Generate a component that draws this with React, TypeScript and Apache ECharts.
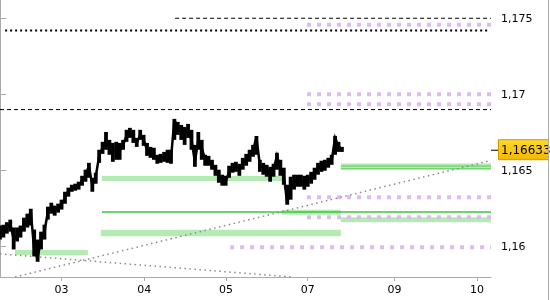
import React, { useEffect, useRef } from 'react';
import * as echarts from 'echarts';

// hourly closes (hour index 0..100)
const price = [
  1.16092, 1.16098, 1.16125, 1.16151, 1.16046, 1.16072, 1.16092, 1.16138, 1.16177, 1.16229,
  1.15981, 1.15928, 1.16046, 1.16098, 1.16229, 1.16262, 1.16236, 1.16256, 1.16275, 1.16321,
  1.16367, 1.16387, 1.16387, 1.164, 1.16433, 1.16465, 1.16531, 1.164, 1.16459, 1.16596,
  1.16649, 1.16701, 1.16655, 1.16622, 1.16642, 1.16629, 1.16668, 1.16727, 1.16753, 1.16721,
  1.16681, 1.16734, 1.16701, 1.16636, 1.16622, 1.16603, 1.1657, 1.16577, 1.1659, 1.16596,
  1.16577, 1.16832, 1.1678, 1.16753, 1.1674, 1.16767, 1.16701, 1.16557, 1.16701, 1.16649,
  1.1657, 1.16564, 1.16537, 1.16505, 1.16459, 1.16439, 1.16426, 1.16491, 1.16518, 1.16531,
  1.16505, 1.16544, 1.1657, 1.16596, 1.16636, 1.16714, 1.16537, 1.16518, 1.16505, 1.16472,
  1.16505, 1.16596, 1.16518, 1.16465, 1.16288, 1.16387, 1.16426, 1.16433, 1.16433, 1.16419,
  1.16439, 1.16452, 1.16478, 1.16511, 1.16531, 1.16531, 1.16544, 1.16564, 1.16714, 1.16662,
  1.16636,
];
// hourly highs
const priceHigh = [
  1.16138, 1.16144, 1.1616, 1.16177, 1.16125, 1.16125, 1.16138, 1.1619, 1.16216, 1.16249,
  1.16112, 1.16046, 1.16098, 1.16144, 1.16262, 1.16288, 1.16269, 1.16282, 1.16308, 1.1636,
  1.16387, 1.16406, 1.16413, 1.16426, 1.16465, 1.16505, 1.1655, 1.16452, 1.16485, 1.16636,
  1.16688, 1.16753, 1.16701, 1.16681, 1.16688, 1.16681, 1.16701, 1.16767, 1.1678, 1.16767,
  1.16714, 1.16767, 1.16734, 1.16681, 1.16655, 1.16649, 1.16603, 1.16609, 1.16622, 1.16636,
  1.16636, 1.16839, 1.16819, 1.16799, 1.16786, 1.16806, 1.16767, 1.16668, 1.16753, 1.16701,
  1.16603, 1.16596, 1.1657, 1.16537, 1.16505, 1.16472, 1.16465, 1.16531, 1.1655, 1.16557,
  1.16544, 1.16583, 1.16609, 1.16636, 1.16668, 1.16727, 1.1657, 1.1655, 1.16537, 1.16524,
  1.16544, 1.16616, 1.1657, 1.16518, 1.16406, 1.16459, 1.16472, 1.16472, 1.16472, 1.16465,
  1.16472, 1.16491, 1.16518, 1.1655, 1.16564, 1.1657, 1.16583, 1.16603, 1.16727, 1.16688,
  1.16655,
];
// hourly lows
const priceLow = [
  1.16046, 1.16059, 1.16085, 1.16098, 1.15981, 1.16033, 1.16059, 1.16098, 1.16125, 1.16138,
  1.15935, 1.159, 1.15981, 1.16046, 1.16177, 1.16216, 1.16203, 1.16223, 1.16243, 1.16282,
  1.16328, 1.1636, 1.16367, 1.16374, 1.164, 1.16426, 1.16452, 1.1636, 1.16413, 1.1655,
  1.16609, 1.16636, 1.16603, 1.16557, 1.1657, 1.1657, 1.16636, 1.16688, 1.16714, 1.16681,
  1.16655, 1.16701, 1.16662, 1.16596, 1.16583, 1.1657, 1.16544, 1.1655, 1.16557, 1.1655,
  1.16544, 1.16701, 1.16734, 1.16701, 1.16668, 1.16714, 1.16636, 1.16524, 1.16636, 1.1657,
  1.16531, 1.16531, 1.16505, 1.16465, 1.16419, 1.164, 1.164, 1.16452, 1.16485, 1.16491,
  1.16465, 1.16505, 1.16531, 1.16557, 1.1659, 1.16603, 1.16491, 1.16472, 1.16459, 1.16426,
  1.16459, 1.16505, 1.16465, 1.16406, 1.16275, 1.16308, 1.16374, 1.16393, 1.16393, 1.16374,
  1.16393, 1.16413, 1.16439, 1.16472, 1.16491, 1.16498, 1.16518, 1.16537, 1.16603, 1.16622,
  1.16622,
];
const lastPrice = 1.16633;
const lastPriceText = '1,16633';

const xTickHours = [18, 42.2, 66.1, 90, 115.4, 139.5];
const xTickLabels = ['03', '04', '05', '07', '09', '10'];
const yTickValues = [1.16, 1.165, 1.17, 1.175];
const xMax = 143.6;
const yMin = 1.158;
const yMax = 1.1762;

// [startHour, endHour, level]
const blackDashed = [[51.2, 143.6, 1.175], [0, 143.6, 1.169]];
const blackDotted = [[1.5, 143, 1.1742]];
const purpleDotted = [
  [89.8, 143.6, 1.17458], [89.8, 143.6, 1.17], [89.8, 143.6, 1.16935],
  [89.8, 143.6, 1.16324], [89.8, 143.6, 1.16192], [67.3, 143.6, 1.15996],
];
// [startHour, endHour, low, high]
const greenBands = [
  [29.8, 82.5, 1.1643, 1.16463], [82.5, 99.7, 1.16209, 1.16242], [29.5, 99.7, 1.16068, 1.16111],
  [4.4, 25.7, 1.15945, 1.15978], [99.7, 143.6, 1.16507, 1.16546], [99.7, 143.6, 1.16159, 1.16192],
];
const greenLines = [[29.8, 143.6, 1.16227]];
const greenInnerLines = [[99.7, 143.6, 1.16529], [99.7, 143.6, 1.16511]];
// [h1, v1, h2, v2]
const trendLines = [[4.4, 1.158, 143.3, 1.16564], [0, 1.15952, 85.4, 1.158]];

const FONT = 'DejaVu Sans';

function levelSeries(list: number[][], style: any, name: string) {
  return list.map((l, i) => ({
    type: 'line', name: name + i, silent: true, symbol: 'none',
    data: [[l[0], l[2]], [l[1], l[2]]], lineStyle: style, z: 3,
  }));
}

export default function App() {
  const ref = useRef<HTMLDivElement>(null);
  useEffect(() => {
    const chart = echarts.init(ref.current!, null, { renderer: 'svg' });
    const series: any[] = [];
    series.push({
      type: 'line', data: [], silent: true, z: 1,
      markArea: {
        silent: true,
        itemStyle: { color: '#b3ebb3' },
        data: greenBands.map((b) => [{ coord: [b[0], b[2]] }, { coord: [b[1], b[3]] }]),
      },
    });
    series.push(...levelSeries(greenLines, { color: '#3fc43f', width: 1.5 }, 'gl'));
    series.push(...levelSeries(greenInnerLines, { color: '#5ccc5c', width: 1 }, 'gi'));
    series.push(...levelSeries(purpleDotted, { color: '#dcbcf0', width: 4, type: [4, 6] }, 'pd'));
    series.push(...levelSeries(blackDashed, { color: '#000', width: 1, type: [4, 3] }, 'bd'));
    series.push(...levelSeries(blackDotted, { color: '#000', width: 2, type: [2, 3] }, 'bo'));
    trendLines.forEach((t, i) => series.push({
      type: 'line', name: 'tr' + i, silent: true, symbol: 'none', z: 4,
      data: [[t[0], t[1]], [t[2], t[3]]],
      lineStyle: { color: '#8a8a8a', width: 1.5, type: [1.5, 3.5] },
    }));
    series.push({
      type: 'custom', name: 'range', silent: true, z: 9,
      data: priceHigh.map((h, i) => [i, h, priceLow[i]]),
      encode: { x: 0, y: [1, 2] },
      renderItem: (params: any, api: any) => {
        const top = api.coord([api.value(0), api.value(1)]);
        const bot = api.coord([api.value(0), api.value(2)]);
        return {
          type: 'rect',
          shape: { x: top[0] - 1.9, y: top[1], width: 3.8, height: Math.max(1, bot[1] - top[1]) },
          style: { fill: '#000' },
        };
      },
    });
    series.push({
      type: 'line', name: 'price', symbol: 'none', z: 10,
      data: price.map((v, i) => [i, v]),
      lineStyle: { color: '#000', width: 2.5, join: 'miter' },
    });

    chart.setOption({
      animation: false,
      grid: { left: 0, top: 0, right: 59, bottom: 23 },
      xAxis: {
        type: 'value', min: 0, max: xMax,
        axisLine: { show: true, lineStyle: { color: '#aaa' } },
        axisTick: { show: true, customValues: xTickHours, length: 4, lineStyle: { color: '#aaa' } },
        axisLabel: {
          customValues: xTickHours, margin: 7, color: '#000', fontFamily: FONT, fontSize: 11,
          formatter: (v: number) => xTickLabels[xTickHours.indexOf(v)] ?? '',
        },
        splitLine: { show: false },
      },
      yAxis: {
        type: 'value', position: 'right', min: yMin, max: yMax,
        axisLine: { show: true, lineStyle: { color: '#aaa' } },
        axisTick: { show: true, customValues: yTickValues, length: 6, lineStyle: { color: '#aaa' } },
        axisLabel: {
          customValues: yTickValues, margin: 10, color: '#000', fontFamily: FONT, fontSize: 11,
          formatter: (v: number) => String(+v.toFixed(3)).replace('.', ','),
        },
        splitLine: { show: false },
      },
      series,
    });

    const y = chart.convertToPixel({ yAxisIndex: 0 }, lastPrice) as number;
    const xr = chart.convertToPixel({ xAxisIndex: 0 }, xMax) as number;
    chart.setOption({
      graphic: [
        { type: 'line', shape: { x1: xr, y1: y, x2: xr + 7, y2: y }, style: { stroke: '#000', lineWidth: 1 } },
        {
          type: 'rect', shape: { x: xr + 7.5, y: y - 10.5, width: 50, height: 20 },
          style: {
            fill: new echarts.graphic.LinearGradient(0, 0, 0, 1, [
              { offset: 0, color: '#ffd92a' }, { offset: 1, color: '#f2b800' },
            ]),
            stroke: '#c99b00', lineWidth: 1,
          },
        },
        {
          type: 'text', x: xr + 10, y: y,
          style: { text: lastPriceText, fontFamily: FONT, fontSize: 12, fill: '#000', verticalAlign: 'middle' },
        },
        { type: 'line', shape: { x1: 548.5, y1: 0, x2: 548.5, y2: 300 }, style: { stroke: '#aaa', lineWidth: 1 } },
      ],
    });
    return () => chart.dispose();
  }, []);
  return <div ref={ref} style={{ position: 'fixed', left: 0, top: 0, width: 550, height: 300 }} />;
}
